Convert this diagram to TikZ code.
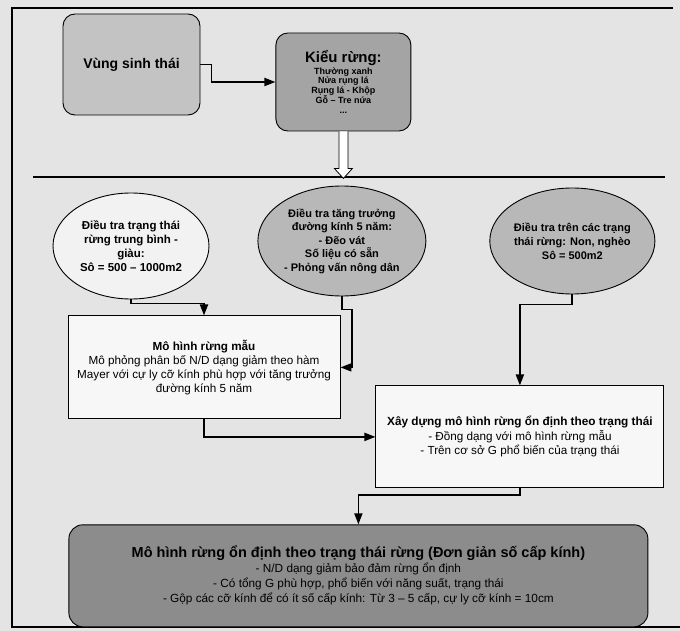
\documentclass[tikz,border=0pt]{standalone}
\usepackage{fontspec}
\setmainfont{Liberation Sans}
\usepackage{tikz}
\usetikzlibrary{arrows.meta,positioning,shapes.geometric}
\usepackage{xcolor}
\definecolor{pagebg}{HTML}{E4E4E4}
\definecolor{zonegray}{HTML}{C3C3C3}
\definecolor{typegray}{HTML}{A4A4A4}
\definecolor{surveygray}{HTML}{B8B8B8}
\definecolor{resultgray}{HTML}{8C8C8C}

\begin{document}
\begin{tikzpicture}[x=1pt,y=-1pt,>={Triangle[length=11pt,width=8pt]},
  every node/.style={align=center,inner sep=2pt},
  greybox/.style={draw,rounded corners=12pt,line width=0.9pt},
  survey/.style={draw,ellipse,inner sep=0pt,line width=0.9pt},
  plainbox/.style={draw,fill=white!97!black,line width=0.9pt},
  link/.style={->,line width=1.8pt}]
\useasboundingbox (0,0) rectangle (680,631);
\fill[pagebg] (0,0) rectangle (680,631);
\draw[line width=1.2pt] (673,8) -- (12,8) -- (12,627) -- (680,627);
\node[greybox,fill=zonegray,minimum width=137pt,minimum height=101pt,font=\bfseries\fontsize{14}{17}\selectfont] (zone) at (131.5,64.5) {Vùng sinh thái};
\node[greybox,fill=typegray,minimum width=135pt,minimum height=98pt,right=75pt of zone,yshift=-17.5pt,font=\bfseries\fontsize{9}{9.2}\selectfont] (foresttype) {{\fontsize{15}{15}\selectfont Kiểu rừng:}\\[1pt]Thường xanh\\Nửa rụng lá\\Rụng lá - Khộp\\Gỗ – Tre nứa\\...};
\node[survey,fill=white!95!black,minimum width=156pt,minimum height=106pt,font=\bfseries\fontsize{11.5}{14}\selectfont] (richplot) at (131,246) {Điều tra trạng thái\\rừng trung bình -\\giàu:\\Sô = 500 – 1000m2};
\node[survey,fill=surveygray,minimum width=168pt,minimum height=110pt,right=48pt of richplot,yshift=5pt,font=\bfseries\fontsize{11}{13.5}\selectfont] (growth) {Điều tra tăng trưởng\\đường kính 5 năm:\\- Đẽo vát\\Số liệu có sẵn\\- Phỏng vấn nông dân};
\node[survey,fill=surveygray,minimum width=162pt,minimum height=106pt,right=63pt of growth,font=\bfseries\fontsize{11}{14}\selectfont] (poorplot) {Điều tra trên các trạng\\thái rừng: Non, nghèo\\Sô = 500m2};
\node[plainbox,minimum width=272pt,minimum height=103pt,below=16pt of richplot,xshift=73pt,font=\fontsize{11.7}{14}\selectfont] (sample) {\textbf{Mô hình rừng mẫu}\\Mô phỏng phân bố N/D dạng giảm theo hàm\\Mayer với cự ly cỡ kính phù hợp với tăng trưởng\\đường kính 5 năm};
\node[plainbox,minimum width=288pt,minimum height=102pt,right=35pt of sample,yshift=-69.5pt,font=\fontsize{11.7}{14.5}\selectfont] (stable) {{\bfseries\fontsize{11.8}{14.5}\selectfont Xây dựng mô hình rừng ổn định theo trạng thái}\\- Đồng dạng với mô hình rừng mẫu\\- Trên cơ sở G phổ biến của trạng thái};
\node[greybox,rounded corners=14pt,fill=resultgray,minimum width=579pt,minimum height=102pt,below=36pt of stable,xshift=-161.5pt,font=\fontsize{11.8}{15}\selectfont] (result) {{\bfseries\fontsize{14.5}{16}\selectfont Mô hình rừng ổn định theo trạng thái rừng (Đơn giản số cấp kính)}\\- N/D dạng giảm bảo đảm rừng ổn định\\- Có tổng G phù hợp, phổ biến với năng suất, trạng thái\\- Gộp các cỡ kính để có ít số cấp kính: Từ 3 – 5 cấp, cự ly cỡ kính = 10cm};
\draw[line width=1.8pt] (33,177) -- (665,177);
\draw[link] (zone.east) -- ++(11,0) |- (foresttype.west);
\draw[line width=0.8pt,fill=white] ([xshift=-4.5pt]foresttype.south) -- ++(0,37) -- ++(-4.5,0) -- ++(9,10) -- ++(9,-10) -- ++(-4.5,0) -- ++(0,-37);
\draw[link] (richplot.south) -- ++(0,4) -| (sample.north);
\draw[link] (growth.south) -- ++(0,13) -- ++(10,0) |- (sample.east);
\draw[link] (poorplot.south) -- ++(0,10) -| (stable.north);
\draw[link] (sample.south) |- (stable.west);
\draw[link] (stable.south) -- ++(0,7) -| (result.north);
\end{tikzpicture}
\end{document}
